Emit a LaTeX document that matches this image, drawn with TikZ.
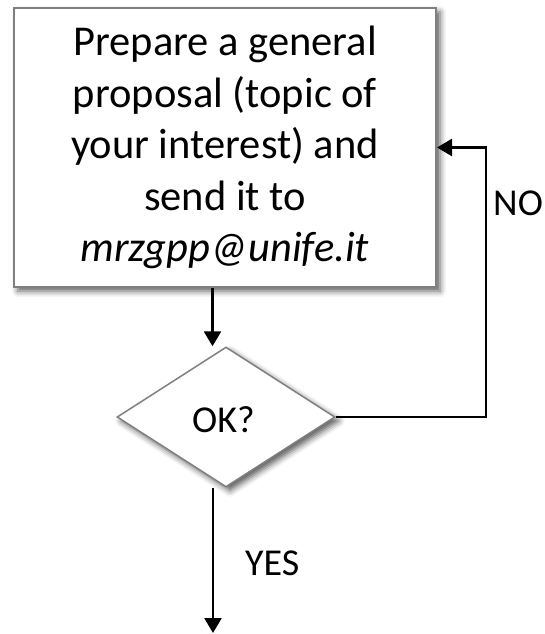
\documentclass[tikz,border=0pt]{standalone}
\usepackage{fontspec}
\setmainfont{Carlito}
\usetikzlibrary{shapes.geometric,arrows.meta,shadows.blur}
\definecolor{edgegray}{HTML}{808080}

\begin{document}
\begin{tikzpicture}[x=1pt,y=-1pt,
  softshadow/.style={blur shadow={shadow xshift=4pt, shadow yshift=-4pt,
      shadow blur radius=6pt, shadow opacity=65}},
  stepbox/.style={draw=edgegray, fill=white, line width=2pt, softshadow,
      minimum width=422pt, minimum height=279pt, inner sep=0pt,
      align=center, font=\fontsize{42.5}{51.5}\selectfont},
  decision/.style={diamond, draw=edgegray, fill=white, line width=1.5pt, softshadow,
      minimum width=218pt, minimum height=140pt, inner sep=0pt},
  flow/.style={draw=black, line width=2.7pt,
      -{Triangle[width=17pt,length=15pt]}},
  lbl/.style={font=\fontsize{38}{46}\selectfont, inner sep=0pt}]
  \useasboundingbox (0,0) rectangle (544,634);

  % process box and decision
  \node[stepbox] (prep) at (225,147.5)
    {Prepare a general\\proposal (topic of\\your interest) and\\send it to\\\textit{mrzgpp@unife.it}};
  \node[decision] (ok) at (226,417) {};
  \node[lbl] (oktext) at (223.5,420) {OK?};

  % exit point below the decision
  \coordinate (out) at (213,633);

  % connectors
  \draw[flow] ([xshift=-12.5pt]prep.south) -- ([xshift=-12.5pt]prep.south |- ok.north);
  \draw[flow] (ok.east) -- (486,417) -- (486,147.5) -- (prep.east);
  \draw[flow] (out |- ok.south) -- (out);

  % branch labels
  \node[lbl, anchor=base west] (no) at (493,215) {NO};
  \node[lbl, anchor=base west] (yes) at (245,575) {YES};
\end{tikzpicture}
\end{document}
